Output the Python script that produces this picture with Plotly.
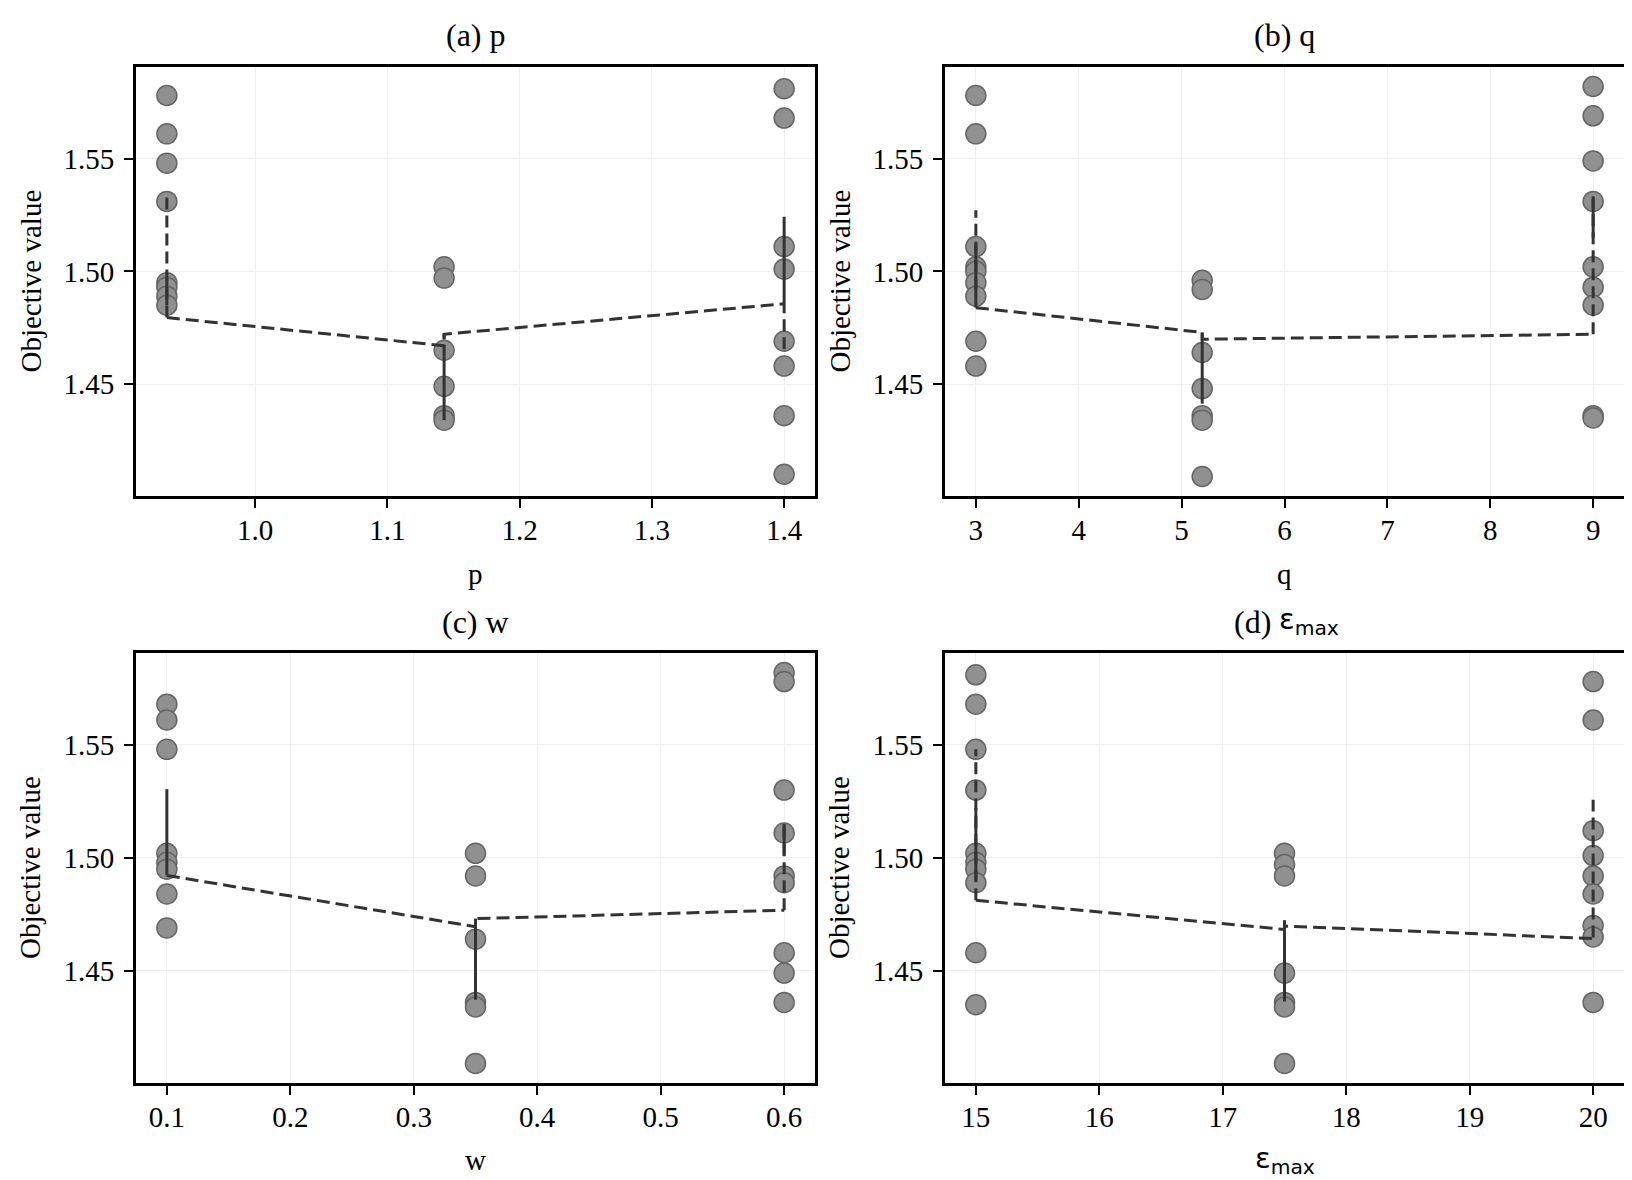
import plotly.graph_objects as go

# ---------------- data ----------------
p_levels = [0.9333, 1.1429, 1.4]
p_values = [
    [1.578, 1.561, 1.548, 1.531, 1.495, 1.493, 1.489, 1.485],
    [1.502, 1.497, 1.465, 1.449, 1.436, 1.434],
    [1.581, 1.568, 1.511, 1.501, 1.469, 1.458, 1.436, 1.410],
]
p_trend_x = [0.9333, 1.1429, 1.1429, 1.4]
p_trend_y = [1.4795, 1.4670, 1.4721, 1.4856]
p_err = [(0.9333, 1.4795, 1.5345, "dash"), (0.9333, 1.485, 1.497, "solid"),
         (1.1429, 1.4621, 1.4721, "dash"), (1.1429, 1.434, 1.4621, "solid"),
         (1.4, 1.4824, 1.5242, "solid"), (1.4, 1.4655, 1.4824, "dash")]

q_levels = [3, 5.2, 9]
q_values = [
    [1.578, 1.561, 1.511, 1.502, 1.500, 1.495, 1.489, 1.469, 1.458],
    [1.496, 1.492, 1.464, 1.448, 1.436, 1.434, 1.409],
    [1.582, 1.569, 1.549, 1.531, 1.502, 1.493, 1.485, 1.436, 1.435],
]
q_trend_x = [3, 5.2, 5.2, 9]
q_trend_y = [1.4839, 1.4729, 1.4699, 1.4721]
q_err = [(3, 1.4839, 1.5271, "dash"), (3, 1.489, 1.512, "solid"),
         (5.2, 1.4413, 1.4729, "solid"),
         (9, 1.4721, 1.534, "dash"), (9, 1.515, 1.532, "solid")]

w_levels = [0.1, 0.35, 0.6]
w_values = [
    [1.568, 1.561, 1.548, 1.502, 1.498, 1.495, 1.484, 1.469],
    [1.502, 1.492, 1.464, 1.436, 1.434, 1.409],
    [1.582, 1.578, 1.530, 1.511, 1.492, 1.489, 1.458, 1.449, 1.436],
]
w_trend_x = [0.1, 0.35, 0.35, 0.6]
w_trend_y = [1.4922, 1.4695, 1.4731, 1.4768]
w_err = [(0.1, 1.4922, 1.5304, "solid"),
         (0.35, 1.4372, 1.4731, "solid"),
         (0.6, 1.4768, 1.515, "dash"), (0.6, 1.501, 1.515, "solid")]

e_levels = [15, 17.5, 20]
e_values = [
    [1.581, 1.568, 1.548, 1.530, 1.502, 1.498, 1.495, 1.489, 1.458, 1.435],
    [1.502, 1.497, 1.492, 1.449, 1.436, 1.434, 1.409],
    [1.578, 1.561, 1.512, 1.501, 1.492, 1.484, 1.470, 1.465, 1.436],
]
e_trend_x = [15, 17.5, 17.5, 20]
e_trend_y = [1.4812, 1.4683, 1.4698, 1.4643]
e_err = [(15, 1.4812, 1.548, "dash"), (15, 1.490, 1.522, "solid"),
         (17.5, 1.4364, 1.4724, "solid"),
         (20, 1.4647, 1.5257, "dash")]

p_ticks = [1.0, 1.1, 1.2, 1.3, 1.4]
q_ticks = [3, 4, 5, 6, 7, 8, 9]
w_ticks = [0.1, 0.2, 0.3, 0.4, 0.5, 0.6]
e_ticks = [15, 16, 17, 18, 19, 20]
y_ticks = [1.45, 1.50, 1.55]

EPS = "ε<sub>max</sub>"
titles = ["(a) p", "(b) q", "(c) w", "(d)"]
xlabels = ["p", "q", "w", EPS]
ylabel = "Objective value"

# ---------------- figure ----------------
W, H = 1632, 1180
SERIF = "Liberation Serif"
SANS = "DejaVu Sans"
MARK_FILL = "#909090"
MARK_EDGE = "#656565"
LINE_C = "#333333"

panels = [
    (p_levels, p_values, p_trend_x, p_trend_y, p_err, p_ticks, ".1f"),
    (q_levels, q_values, q_trend_x, q_trend_y, q_err, q_ticks, "d"),
    (w_levels, w_values, w_trend_x, w_trend_y, w_err, w_ticks, ".1f"),
    (e_levels, e_values, e_trend_x, e_trend_y, e_err, e_ticks, "d"),
]

xdoms = [(128 / W, 807 / W), (937 / W, 1616 / W)]
ydoms = [(1 - 488 / H, 1 - 59 / H), (1 - 1075 / H, 1 - 645 / H)]

all_y = [v for pv in (p_values, q_values, w_values, e_values) for g in pv for v in g]
ymin, ymax = min(all_y), max(all_y)
ypad = 0.05 * (ymax - ymin)
yrange = [ymin - ypad, ymax + ypad]

fig = go.Figure()
layout = dict(width=W, height=H, margin=dict(l=0, r=0, t=0, b=0),
              paper_bgcolor="white", plot_bgcolor="white",
              showlegend=False, font=dict(family=SERIF, size=29, color="black"))
annotations = []

for i, (levels, values, tx, ty, errs, ticks, fmt) in enumerate(panels):
    r, c = divmod(i, 2)
    xa = "x" if i == 0 else f"x{i+1}"
    ya = "y" if i == 0 else f"y{i+1}"
    xs, ys = [], []
    for lv, grp in zip(levels, values):
        xs += [lv] * len(grp)
        ys += grp
    fig.add_trace(go.Scatter(x=xs, y=ys, mode="markers", xaxis=xa, yaxis=ya,
                             marker=dict(size=20, color=MARK_FILL,
                                         line=dict(color=MARK_EDGE, width=1.5)),
                             hoverinfo="skip"))
    for (ex, lo, hi, st) in errs:
        fig.add_trace(go.Scatter(x=[ex, ex], y=[lo, hi], mode="lines", xaxis=xa, yaxis=ya,
                                 line=dict(color=LINE_C, width=3,
                                           dash="12px,6px" if st == "dash" else "solid"),
                                 hoverinfo="skip"))
    fig.add_trace(go.Scatter(x=tx, y=ty, mode="lines", xaxis=xa, yaxis=ya,
                             line=dict(color=LINE_C, width=3, dash="13px,6px"),
                             hoverinfo="skip"))

    xr = max(levels) - min(levels)
    axcommon = dict(showline=True, linecolor="black", linewidth=2.8, mirror=True,
                    ticks="outside", ticklen=9, tickwidth=2.4, tickcolor="black",
                    showgrid=True, gridcolor="#efefef", gridwidth=1, zeroline=False,
                    tickfont=dict(family=SERIF, size=29, color="black"))
    layout["xaxis" if i == 0 else f"xaxis{i+1}"] = dict(
        axcommon, domain=list(xdoms[c]), anchor=ya, ticklabelstandoff=-3,
        range=[min(levels) - 0.05 * xr, max(levels) + 0.05 * xr],
        tickmode="array", tickvals=ticks,
        ticktext=[format(t, fmt) if fmt != "d" else str(int(t)) for t in ticks])
    layout["yaxis" if i == 0 else f"yaxis{i+1}"] = dict(
        axcommon, domain=list(ydoms[r]), anchor=xa, range=yrange, ticklabelstandoff=4,
        tickmode="array", tickvals=y_ticks, ticktext=[f"{t:.2f}" for t in y_ticks])

    xc = (xdoms[c][0] + xdoms[c][1]) / 2
    yc = (ydoms[r][0] + ydoms[r][1]) / 2
    title_y = [1 - 27 / H, 1 - 614 / H][r]
    xlab_y = [1 - 566 / H, 1 - 1152 / H][r]
    ylab_x = [22 / W, 831 / W][c]
    if i < 3:
        annotations.append(dict(text=titles[i], x=xc, y=title_y, xref="paper", yref="paper",
                                showarrow=False, xanchor="center", yanchor="middle",
                                font=dict(family=SERIF, size=32, color="black")))
    else:
        annotations.append(dict(text=titles[i], x=xc - 12 / W, y=title_y,
                                xref="paper", yref="paper",
                                showarrow=False, xanchor="right", yanchor="middle",
                                font=dict(family=SERIF, size=32, color="black")))
        annotations.append(dict(text=EPS, x=xc - 8 / W, y=title_y + 1 / H,
                                xref="paper", yref="paper",
                                showarrow=False, xanchor="left", yanchor="middle",
                                font=dict(family=SANS, size=29, color="black")))
    annotations.append(dict(text=xlabels[i], x=xc, y=xlab_y, xref="paper", yref="paper",
                            showarrow=False, xanchor="center", yanchor="middle",
                            font=dict(family=SANS if i == 3 else SERIF,
                                      size=29, color="black")))
    annotations.append(dict(text=ylabel, x=ylab_x, y=yc, xref="paper", yref="paper",
                            showarrow=False, xanchor="center", yanchor="middle",
                            textangle=-90,
                            font=dict(family=SERIF, size=29, color="black")))

layout["annotations"] = annotations
fig.update_layout(**layout)
fig.write_html("out.html")
